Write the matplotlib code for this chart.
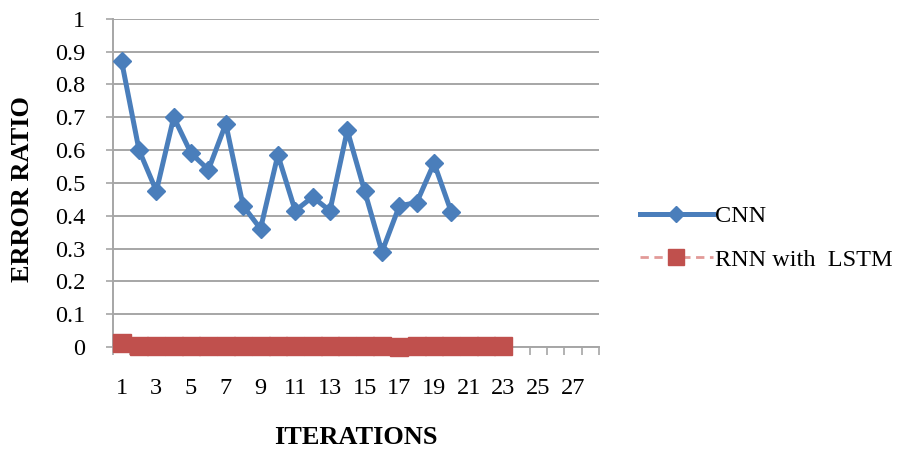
import numpy as np
import matplotlib
matplotlib.use('Agg')
import matplotlib.pyplot as plt

iterations = np.arange(1, 29)
cnn_err = [0.87, 0.60, 0.475, 0.70, 0.59, 0.54, 0.68, 0.43, 0.36, 0.585,
           0.415, 0.457, 0.415, 0.66, 0.475, 0.29, 0.43, 0.44, 0.56, 0.41]
rnn_err = [0.011, 0.004, 0.004, 0.004, 0.004, 0.004, 0.004, 0.004, 0.004, 0.004,
           0.004, 0.004, 0.004, 0.004, 0.004, 0.004, 0.0, 0.004, 0.004, 0.004,
           0.004, 0.004, 0.004]
ytick_vals = [0, 0.1, 0.2, 0.3, 0.4, 0.5, 0.6, 0.7, 0.8, 0.9, 1]
ytick_labels = ['0', '0.1', '0.2', '0.3', '0.4', '0.5', '0.6', '0.7', '0.8', '0.9', '1']
xtick_labels = [str(i) for i in iterations[::2]]

plt.rcParams['font.family'] = ['Liberation Serif', 'DejaVu Serif']
grey = '#a6a6a6'

fig = plt.figure(figsize=(9.06, 4.53), dpi=100)
ax = fig.add_axes([0.1247, 0.234, 0.5364, 0.7247])

ax.plot(iterations[:len(cnn_err)], cnn_err, color='#4a7ebb', lw=3.6,
        marker='D', ms=9.5, mec='#4a7ebb', mfc='#4a7ebb', label='CNN', zorder=4)
ax.plot(iterations[:len(rnn_err)], rnn_err, color='#e29a98', lw=2, ls=(0, (3, 2)),
        marker='s', ms=13.5, mec='#c0504d', mfc='#c0504d', label='RNN with  LSTM',
        zorder=5, clip_on=False)

ax.set_xlim(0.5, 28.5)
ax.set_ylim(0, 1)
ax.set_yticks(ytick_vals)
ax.set_yticklabels(ytick_labels)
ax.set_xticks(iterations[::2])
ax.set_xticklabels(xtick_labels)
ax.set_xticks(np.arange(0.5, 29, 1), minor=True)
ax.tick_params(axis='y', labelsize=17.5, length=5, width=1.2, color=grey, pad=15)
ax.tick_params(axis='x', which='major', labelsize=17.5, length=0, pad=22)
ax.tick_params(axis='x', which='minor', length=6, width=1.2, color=grey)

ax.grid(axis='y', color=grey, lw=1.4)
ax.set_axisbelow(True)
for s in ['top', 'right']:
    ax.spines[s].set_visible(False)
for s in ['left', 'bottom']:
    ax.spines[s].set_color(grey)
    ax.spines[s].set_linewidth(1.4)

fig.text(23/906, 1-189/453, 'ERROR RATIO', rotation=90, ha='center', va='center',
         fontsize=19, fontweight='bold')
fig.text(356/906, 1-438/453, 'ITERATIONS', ha='center', va='center',
         fontsize=19, fontweight='bold')

ax.legend(loc='center left', bbox_to_anchor=(640/906, 1-238/453),
          bbox_transform=fig.transFigure, frameon=False, fontsize=17.5,
          handlelength=3.0, handletextpad=0.1, labelspacing=0.9,
          borderpad=0, borderaxespad=0, numpoints=1, markerscale=0.9)

fig.savefig('out.png', dpi=100)
